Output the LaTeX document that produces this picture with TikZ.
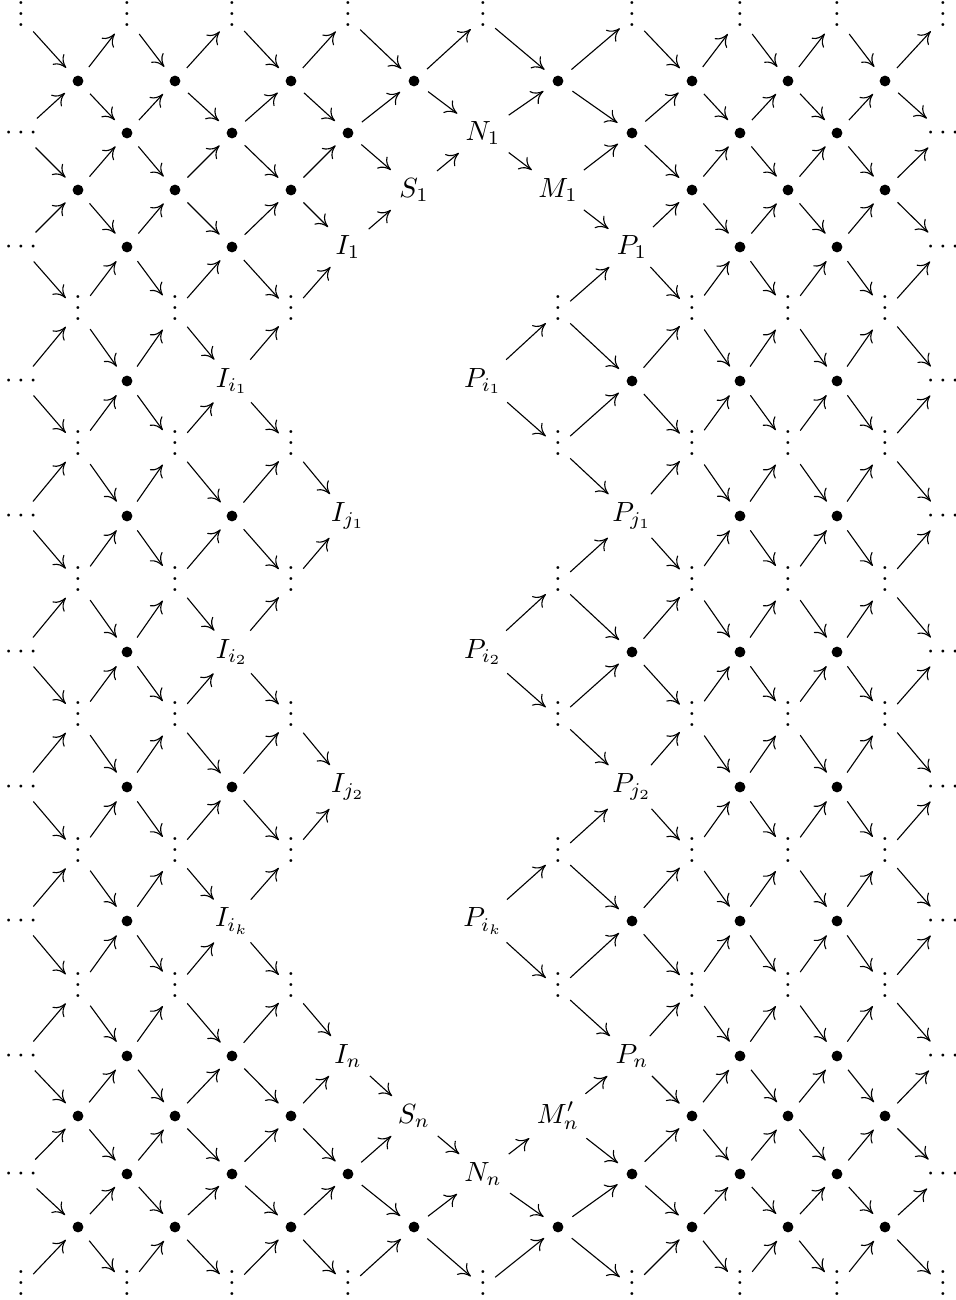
\documentclass[tikz,border=0pt]{standalone}
\usetikzlibrary{arrows.meta}
\newcommand\vdt{\vbox{\baselineskip4pt\lineskiplimit0pt\hbox{.}\hbox{.}\hbox{.}}\vrule width 0pt depth 2.9pt}
\def\cx{{21,78,127,175,232,291,348,414,483,558,632,692,740,788,837,885,943}}
\def\ry{{14,81,133,190,247,308,381,443,516,579,652,714,787,850,921,985,1056,1116,1174,1227,1283}}
% general node (label, horizontal dots)
\newcommand\nd[3]{%
  \pgfmathsetmacro\xx{\cx[#2]}\pgfmathsetmacro\yy{\ry[#1]}%
  \node[obj] (n-#1-#2) at (\xx,\yy) {#3};}
% bullet node
\newcommand\nb[2]{%
  \pgfmathsetmacro\xx{\cx[#2]}\pgfmathsetmacro\yy{\ry[#1]}%
  \node[bul] (n-#1-#2) at (\xx,\yy) {};}
% vertical dots node (its box reaches a little below the dots)
\newcommand\nv[2]{%
  \pgfmathsetmacro\xx{\cx[#2]}\pgfmathsetmacro\yy{\ry[#1]+4}%
  \node[obj] (n-#1-#2) at (\xx,\yy) {\vdt};}
\begin{document}
\begin{tikzpicture}[x=0.36pt,y=-0.36pt,
  obj/.style={inner sep=3pt,outer sep=0pt},
  bul/.style={circle,fill,inner sep=0pt,minimum size=3.9pt,outer sep=4.4pt},
  ar/.style={line width=0.4pt,-{Computer Modern Rightarrow[length=4.3pt,width=5.6pt]}}]
\useasboundingbox (0,0) rectangle (956,1300);
% top and bottom rows of vertical dots
\foreach \c in {0,2,...,16}{\nv{0}{\c}\nv{20}{\c}}
% rows 1 and 19
\foreach \c in {1,3,...,15}{\nb{1}{\c}\nb{19}{\c}}
% rows 2 and 18
\foreach \r in {2,18}{
  \foreach \c in {2,4,6,10,12,14}{\nb{\r}{\c}}
  \nd{\r}{0}{$\cdots$}\nd{\r}{16}{$\cdots$}}
\nd{2}{8}{$N_1$}
\nd{18}{8}{$N_n$}
% rows 3 and 17
\foreach \r in {3,17}{
  \foreach \c in {1,3,5,11,13,15}{\nb{\r}{\c}}}
\nd{3}{7}{$S_1$}\nd{3}{9}{$M_1$}
\nd{17}{7}{$S_n$}\nd{17}{9}{$M'_n$}
% rows 4, 8, 12, 16
\foreach \r in {4,8,12,16}{
  \foreach \c in {2,4,12,14}{\nb{\r}{\c}}
  \nd{\r}{0}{$\cdots$}\nd{\r}{16}{$\cdots$}}
\nd{4}{6}{$I_1$}\nd{4}{10}{$P_1$}
\nd{8}{6}{$I_{j_1}$}\nd{8}{10}{$P_{j_1}$}
\nd{12}{6}{$I_{j_2}$}\nd{12}{10}{$P_{j_2}$}
\nd{16}{6}{$I_n$}\nd{16}{10}{$P_n$}
% rows 6, 10, 14
\foreach \r in {6,10,14}{
  \foreach \c in {2,10,12,14}{\nb{\r}{\c}}
  \nd{\r}{0}{$\cdots$}\nd{\r}{16}{$\cdots$}}
\nd{6}{4}{$I_{i_1}$}\nd{6}{8}{$P_{i_1}$}
\nd{10}{4}{$I_{i_2}$}\nd{10}{8}{$P_{i_2}$}
\nd{14}{4}{$I_{i_k}$}\nd{14}{8}{$P_{i_k}$}
% odd rows 5..15 of vertical dots
\foreach \r in {5,7,...,15}{
  \foreach \c in {1,3,5,9,11,13,15}{\nv{\r}{\c}}}
% arrows: from each node to its upper-right and lower-right neighbours
\foreach \r in {0,...,20}{
  \foreach \c in {0,...,15}{
    \pgfmathtruncatemacro\ru{\r-1}%
    \pgfmathtruncatemacro\rd{\r+1}%
    \pgfmathtruncatemacro\cn{\c+1}%
    \ifcsname pgf@sh@ns@n-\r-\c\endcsname
      \ifcsname pgf@sh@ns@n-\ru-\cn\endcsname
        \draw[ar] (n-\r-\c) -- (n-\ru-\cn);
      \fi
      \ifcsname pgf@sh@ns@n-\rd-\cn\endcsname
        \draw[ar] (n-\r-\c) -- (n-\rd-\cn);
      \fi
    \fi
  }}
\end{tikzpicture}
\end{document}
